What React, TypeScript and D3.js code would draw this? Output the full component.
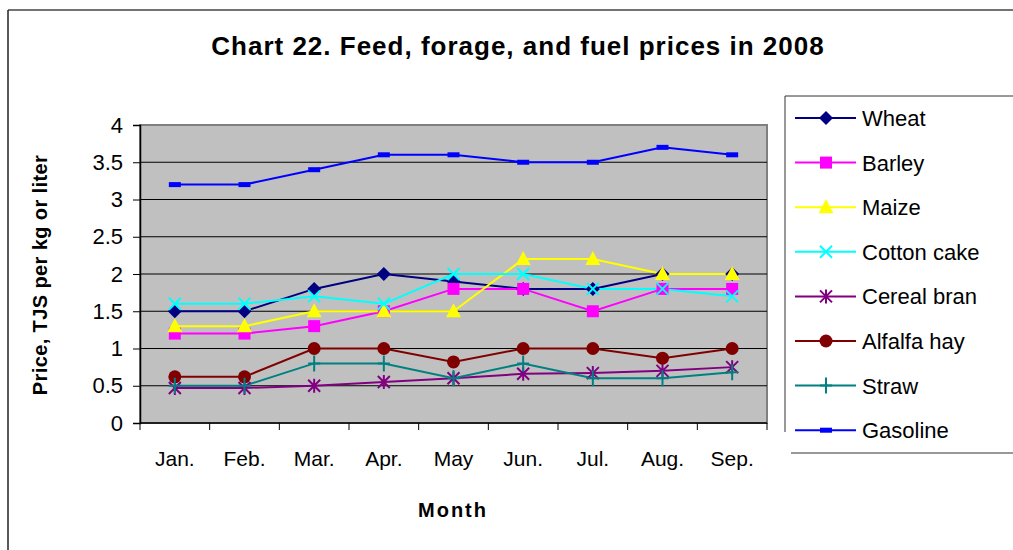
import React, { useRef, useEffect } from 'react';
import * as d3 from 'd3';

const months = ['Jan.', 'Feb.', 'Mar.', 'Apr.', 'May', 'Jun.', 'Jul.', 'Aug.', 'Sep.'];
const yTicks = [0, 0.5, 1, 1.5, 2, 2.5, 3, 3.5, 4];

const wheat = [1.5, 1.5, 1.8, 2.0, 1.9, 1.8, 1.8, 2.0, 2.0];
const barley = [1.2, 1.2, 1.3, 1.5, 1.8, 1.8, 1.5, 1.8, 1.8];
const maize = [1.3, 1.3, 1.5, 1.5, 1.5, 2.2, 2.2, 2.0, 2.0];
const cottonCake = [1.6, 1.6, 1.7, 1.6, 2.0, 2.0, 1.8, 1.8, 1.7];
const cerealBran = [0.47, 0.47, 0.5, 0.55, 0.6, 0.66, 0.67, 0.7, 0.75];
const alfalfaHay = [0.62, 0.62, 1.0, 1.0, 0.82, 1.0, 1.0, 0.87, 1.0];
const straw = [0.5, 0.5, 0.8, 0.8, 0.6, 0.8, 0.6, 0.6, 0.68];
const gasoline = [3.2, 3.2, 3.4, 3.6, 3.6, 3.5, 3.5, 3.7, 3.6];

const seriesList = [
  { name: 'Wheat', values: wheat, color: '#000080', marker: 'diamond' },
  { name: 'Barley', values: barley, color: '#FF00FF', marker: 'square' },
  { name: 'Maize', values: maize, color: '#FFFF00', marker: 'triangle' },
  { name: 'Cotton cake', values: cottonCake, color: '#00FFFF', marker: 'x' },
  { name: 'Cereal bran', values: cerealBran, color: '#800080', marker: 'star' },
  { name: 'Alfalfa hay', values: alfalfaHay, color: '#800000', marker: 'circle' },
  { name: 'Straw', values: straw, color: '#008080', marker: 'plus' },
  { name: 'Gasoline', values: gasoline, color: '#0000FF', marker: 'dash' },
];

const FONT = 'Liberation Sans, Arial, sans-serif';

// draw one marker centred on (0,0) inside group g
const drawMarker = (g: any, type: string, color: string) => {
  if (type === 'diamond') {
    g.append('path').attr('d', 'M0,-7L7,0L0,7L-7,0Z').attr('fill', color);
  } else if (type === 'square') {
    g.append('rect').attr('x', -6).attr('y', -6).attr('width', 12).attr('height', 12).attr('fill', color);
  } else if (type === 'triangle') {
    g.append('path').attr('d', 'M0,-8L7.5,6L-7.5,6Z').attr('fill', color);
  } else if (type === 'x') {
    g.append('path').attr('d', 'M-6,-6L6,6M-6,6L6,-6').attr('stroke', color).attr('stroke-width', 2);
  } else if (type === 'star') {
    g.append('path').attr('d', 'M-6,-6L6,6M-6,6L6,-6M0,-7L0,7').attr('stroke', color).attr('stroke-width', 2);
  } else if (type === 'circle') {
    g.append('circle').attr('r', 6.5).attr('fill', color);
  } else if (type === 'plus') {
    g.append('path').attr('d', 'M0,-8L0,8M-6,0L6,0').attr('stroke', color).attr('stroke-width', 2);
  } else if (type === 'dash') {
    g.append('rect').attr('x', -6).attr('y', -2.5).attr('width', 12).attr('height', 5).attr('fill', color);
  }
};

const App = () => {
  const svgRef = useRef<SVGSVGElement>(null);

  useEffect(() => {
    const width = 1013;
    const height = 550;
    const svg = d3.select(svgRef.current);
    svg.selectAll('*').remove();

    // outer frame
    svg.append('rect').attr('width', width).attr('height', height).attr('fill', '#fff');
    svg.append('line').attr('x1', 8).attr('x2', width).attr('y1', 10).attr('y2', 10).attr('stroke', '#444').attr('stroke-width', 1.5);
    svg.append('line').attr('x1', 8).attr('x2', 8).attr('y1', 10).attr('y2', height).attr('stroke', '#222').attr('stroke-width', 1.5);

    // title
    svg.append('text')
      .attr('x', 518)
      .attr('y', 55)
      .attr('text-anchor', 'middle')
      .style('font-family', FONT)
      .style('font-size', '26px')
      .style('font-weight', 'bold')
      .style('letter-spacing', '1px')
      .text('Chart 22. Feed, forage, and fuel prices in 2008');

    const plot = { left: 140, right: 767, top: 125, bottom: 423 };

    const x = d3.scaleBand().domain(months).range([plot.left, plot.right]).padding(0);
    const y = d3.scaleLinear().domain([0, 4]).range([plot.bottom, plot.top]);

    // plot background
    svg.append('rect')
      .attr('x', plot.left)
      .attr('y', plot.top)
      .attr('width', plot.right - plot.left)
      .attr('height', plot.bottom - plot.top)
      .attr('fill', '#C0C0C0')
      .attr('stroke', '#808080')
      .attr('stroke-width', 2);

    // gridlines
    svg.append('g')
      .selectAll('line')
      .data(yTicks.filter(d => d > 0 && d < 4))
      .join('line')
      .attr('x1', plot.left)
      .attr('x2', plot.right)
      .attr('y1', d => y(d))
      .attr('y2', d => y(d))
      .attr('stroke', '#000')
      .attr('stroke-width', 1);

    // y axis
    const yAxis = svg.append('g')
      .attr('transform', `translate(${plot.left},0)`)
      .call(d3.axisLeft(y).tickValues(yTicks).tickSize(7).tickPadding(10).tickFormat(d => String(d)));
    yAxis.select('.domain').attr('stroke', '#000').attr('stroke-width', 1.5);
    yAxis.selectAll('.tick line').attr('stroke', '#000');
    yAxis.selectAll('text')
      .style('font-family', FONT)
      .style('font-size', '22px')
      .attr('fill', '#000');

    // x axis
    const xTickPos = d3.range(months.length + 1).map(i => plot.left + i * x.bandwidth());
    svg.append('line')
      .attr('x1', plot.left).attr('x2', plot.right)
      .attr('y1', plot.bottom).attr('y2', plot.bottom)
      .attr('stroke', '#000').attr('stroke-width', 1.5);
    svg.append('g')
      .selectAll('line')
      .data(xTickPos)
      .join('line')
      .attr('x1', d => d).attr('x2', d => d)
      .attr('y1', plot.bottom).attr('y2', plot.bottom + 7)
      .attr('stroke', '#000');
    svg.append('g')
      .selectAll('text')
      .data(months)
      .join('text')
      .attr('x', d => (x(d) as number) + x.bandwidth() / 2)
      .attr('y', 466)
      .attr('text-anchor', 'middle')
      .style('font-family', FONT)
      .style('font-size', '21px')
      .text(d => d);

    // axis titles
    svg.append('text')
      .attr('transform', 'translate(47,275) rotate(-90)')
      .attr('text-anchor', 'middle')
      .style('font-family', FONT)
      .style('font-size', '20px')
      .style('font-weight', 'bold')
      .style('letter-spacing', '0.4px')
      .text('Price, TJS per kg or liter');
    svg.append('text')
      .attr('x', 453)
      .attr('y', 517)
      .attr('text-anchor', 'middle')
      .style('font-family', FONT)
      .style('font-size', '20px')
      .style('font-weight', 'bold')
      .style('letter-spacing', '2px')
      .text('Month');

    // lines & markers
    const line = d3.line<number>()
      .x((d, i) => (x(months[i]) as number) + x.bandwidth() / 2)
      .y(d => y(d));

    seriesList.forEach(s => {
      svg.append('path')
        .datum(s.values)
        .attr('d', line)
        .attr('fill', 'none')
        .attr('stroke', s.color)
        .attr('stroke-width', 2);
    });
    seriesList.forEach(s => {
      s.values.forEach((v, i) => {
        const g = svg.append('g')
          .attr('transform', `translate(${(x(months[i]) as number) + x.bandwidth() / 2},${y(v)})`);
        drawMarker(g, s.marker, s.color);
      });
    });

    // legend
    const legend = svg.append('g');
    legend.append('rect').attr('x', 785).attr('y', 96).attr('width', 240).attr('height', 357).attr('fill', '#fff');
    legend.append('line').attr('x1', 785).attr('x2', 785).attr('y1', 96).attr('y2', 432).attr('stroke', '#333').attr('stroke-width', 1);
    legend.append('line').attr('x1', 785).attr('x2', width).attr('y1', 96).attr('y2', 96).attr('stroke', '#333').attr('stroke-width', 1);
    legend.append('line').attr('x1', 791).attr('x2', width).attr('y1', 453).attr('y2', 453).attr('stroke', '#333').attr('stroke-width', 1);

    seriesList.forEach((s, i) => {
      const cy = 118 + i * 44.6;
      legend.append('line')
        .attr('x1', 795).attr('x2', 856)
        .attr('y1', cy).attr('y2', cy)
        .attr('stroke', s.color).attr('stroke-width', 2);
      const g = legend.append('g').attr('transform', `translate(826,${cy})`);
      drawMarker(g, s.marker, s.color);
      legend.append('text')
        .attr('x', 862)
        .attr('y', cy + 8)
        .style('font-family', FONT)
        .style('font-size', '22px')
        .text(s.name);
    });
  }, []);

  return (
    <div style={{ position: 'absolute', left: 0, top: 0 }}>
      <svg ref={svgRef} width={1013} height={550} style={{ display: 'block' }}></svg>
    </div>
  );
};

export default App;
